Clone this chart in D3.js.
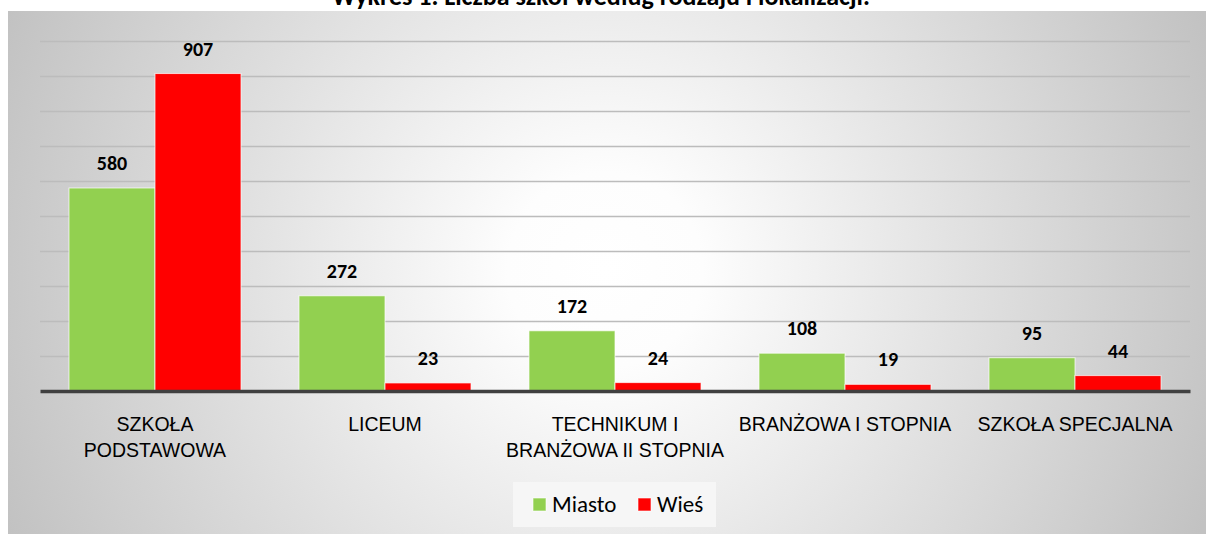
<!DOCTYPE html>
<html>
<head>
<meta charset="utf-8">
<script src="https://cdn.jsdelivr.net/npm/d3@7"></script>
<style>
  html, body { margin: 0; padding: 0; background: #fff; }
  svg { display: block; font-family: Carlito, Calibri, Lato, sans-serif; }
</style>
</head>
<body>
<svg id="chart"></svg>
<script>
// data
var categories = ["SZKOŁA PODSTAWOWA", "LICEUM", "TECHNIKUM I BRANŻOWA II STOPNIA", "BRANŻOWA I STOPNIA", "SZKOŁA SPECJALNA"]
var categoryLines = [["SZKOŁA", "PODSTAWOWA"], ["LICEUM"], ["TECHNIKUM I", "BRANŻOWA II STOPNIA"], ["BRANŻOWA I STOPNIA"], ["SZKOŁA SPECJALNA"]]
var seriesNames = ["Miasto", "Wieś"]
var miasto = [580, 272, 172, 108, 95]
var wies = [907, 23, 24, 19, 44]
var yTicks = [100, 200, 300, 400, 500, 600, 700, 800, 900, 1000]
var title = "Wykres 1. Liczba szkół według rodzaju i lokalizacji."

var colors = {"Miasto": "#92D050", "Wieś": "#FF0000"}

var screen = {width: 1206, height: 534}
var margin = {left: 40, right: 16, top: 41, bottom: 143}
var width = screen.width - margin.left - margin.right
var height = screen.height - margin.top - margin.bottom

var svg = d3.select("#chart")
  .attr("width", screen.width)
  .attr("height", screen.height)

// background panel with radial gradient
var defs = svg.append("defs")
var grad = defs.append("radialGradient")
  .attr("id", "bg")
  .attr("gradientUnits", "userSpaceOnUse")
  .attr("cx", 605).attr("cy", 270).attr("r", 650)
grad.append("stop").attr("offset", "0%").attr("stop-color", "#ffffff")
grad.append("stop").attr("offset", "15%").attr("stop-color", "#fdfdfd")
grad.append("stop").attr("offset", "100%").attr("stop-color", "#c2c2c2")

svg.append("rect")
  .attr("x", 8).attr("y", 11)
  .attr("width", screen.width - 8)
  .attr("height", screen.height - 11)
  .attr("fill", "url(#bg)")

svg.append("text")
  .attr("x", 601).attr("y", 5)
  .attr("text-anchor", "middle")
  .attr("font-size", "26px")
  .attr("font-weight", "bold")
  .text(title)

var g = svg.append("g")
  .attr("transform", "translate(" + margin.left + "," + margin.top + ")")

var xScale = d3.scaleBand()
  .domain(categories)
  .range([0, width])
  .padding(0)

var xInner = d3.scaleBand()
  .domain(seriesNames)
  .range([0, xScale.bandwidth()])
  .paddingInner(0)
  .paddingOuter(0.337)

var yScale = d3.scaleLinear()
  .domain([0, 1000])
  .range([height, 0])

// gridlines
var grid = g.append("g")
  .call(d3.axisLeft(yScale).tickValues(yTicks).tickSize(-width).tickFormat(""))
grid.select(".domain").remove()
grid.selectAll("line")
  .attr("stroke", "#bcbcbc")
  .attr("stroke-width", 1.6)

var rows = categories.map(function(c, i){
  return {cat: c, values: [{name: "Miasto", value: miasto[i]}, {name: "Wieś", value: wies[i]}]}
})

var groups = g.selectAll(".cat")
  .data(rows)
  .enter()
  .append("g")
  .attr("transform", function(d){ return "translate(" + xScale(d.cat) + ",0)" })

groups.selectAll("rect")
  .data(function(d){ return d.values })
  .enter()
  .append("rect")
  .attr("x", function(d){ return xInner(d.name) })
  .attr("y", function(d){ return yScale(d.value) })
  .attr("width", xInner.bandwidth())
  .attr("height", function(d){ return height - yScale(d.value) })
  .attr("fill", function(d){ return colors[d.name] })
  .attr("stroke", "rgba(255,255,255,0.7)")
  .attr("stroke-width", 1)

groups.selectAll(".val")
  .data(function(d){ return d.values })
  .enter()
  .append("text")
  .attr("class", "val")
  .attr("x", function(d){ return xInner(d.name) + xInner.bandwidth() / 2 })
  .attr("y", function(d){ return yScale(d.value) - 18 })
  .attr("text-anchor", "middle")
  .attr("font-size", "20px")
  .attr("font-weight", "bold")
  .attr("fill", "#000")
  .text(function(d){ return d.value })

// x axis
var xAxis = g.append("g")
  .attr("transform", "translate(0," + height + ")")
  .call(d3.axisBottom(xScale).tickSize(0).tickFormat(""))
xAxis.select(".domain")
  .attr("stroke", "#404040")
  .attr("stroke-width", 3.5)

xAxis.selectAll(".tick").each(function(d, i){
  var t = d3.select(this).append("text")
    .attr("text-anchor", "middle")
    .attr("font-size", "19.5px")
    .attr("fill", "#000")
  categoryLines[i].forEach(function(line, j){
    t.append("tspan")
      .attr("x", 0)
      .attr("y", 40 + j * 26)
      .text(line)
  })
})

// legend
var legend = svg.append("g")
legend.append("rect")
  .attr("x", 513).attr("y", 482)
  .attr("width", 203).attr("height", 45)
  .attr("fill", "#f6f6f6")
var legendX = [533, 638]
legend.selectAll(".key")
  .data(seriesNames)
  .enter()
  .append("rect")
  .attr("class", "key")
  .attr("x", function(d, i){ return legendX[i] })
  .attr("y", 498)
  .attr("width", 13).attr("height", 13)
  .attr("fill", function(d){ return colors[d] })
  .attr("stroke", "rgba(255,255,255,0.6)")
legend.selectAll("text")
  .data(seriesNames)
  .enter()
  .append("text")
  .attr("x", function(d, i){ return legendX[i] + 19 })
  .attr("y", 512)
  .attr("font-size", "23px")
  .attr("fill", "#000")
  .text(function(d){ return d })
</script>
</body>
</html>
